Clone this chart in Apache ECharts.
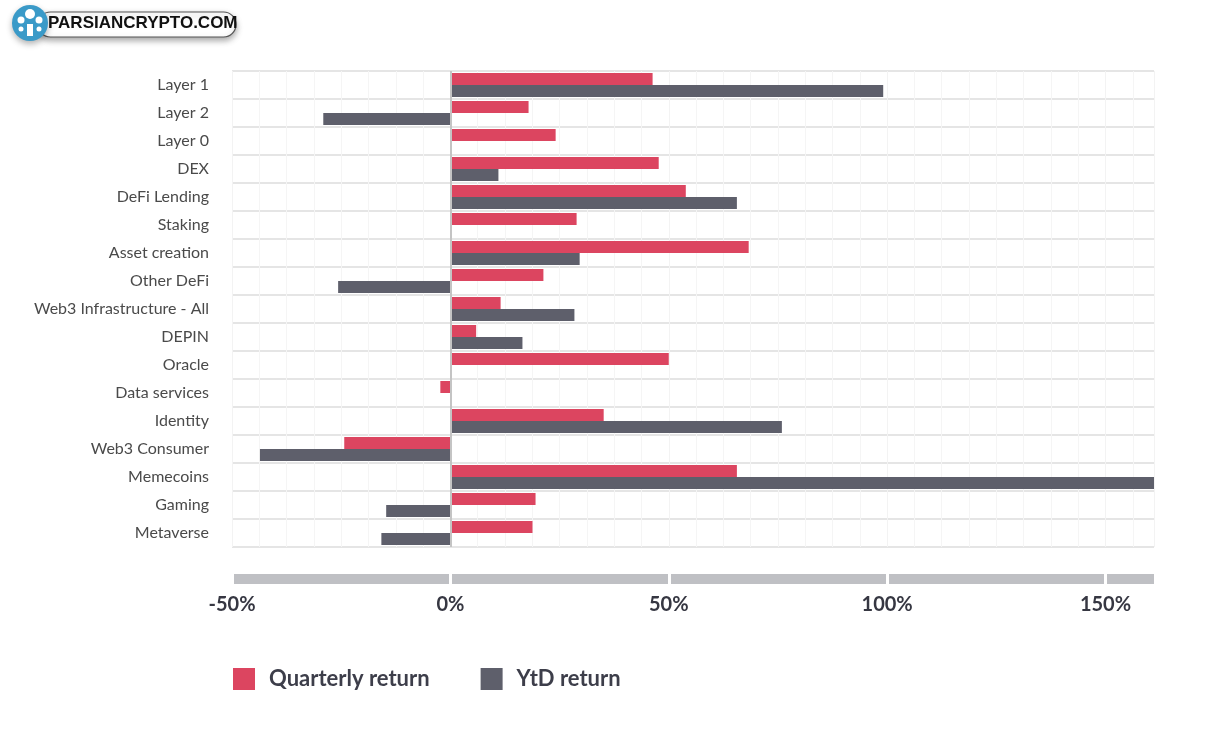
<!DOCTYPE html>
<html>
<head>
<meta charset="utf-8">
<script src="https://cdn.jsdelivr.net/npm/echarts@6/dist/echarts.min.js"></script>
<style>html,body{margin:0;padding:0;background:#fff}#c{width:1216px;height:730px}</style>
</head>
<body>
<div id="c"></div>
<script>
const categories = ['Layer 1','Layer 2','Layer 0','DEX','DeFi Lending','Staking','Asset creation','Other DeFi','Web3 Infrastructure - All','DEPIN','Oracle','Data services','Identity','Web3 Consumer','Memecoins','Gaming','Metaverse'];
const quarterly = [46.3, 17.9, 24.1, 47.7, 53.9, 28.9, 68.3, 21.3, 11.5, 5.9, 50.0, -2.3, 35.1, -24.3, 65.6, 19.5, 18.8];
const ytd = [99.1, -29.1, null, 11.0, 65.6, null, 29.6, -25.7, 28.4, 16.5, null, null, 75.9, -43.6, 161.1, -14.7, -15.8];
const seriesNames = ['Quarterly return', 'YtD return'];
const axisMin = -50, axisMax = 161.1, axisStep = 50;

const chart = echarts.init(document.getElementById('c'), null, {renderer: 'canvas'});
const font = 'Lato, "Open Sans", sans-serif';
chart.setOption({
  animation: false,
  backgroundColor: '#ffffff',
  grid: {left: 232, right: 62, top: 71, height: 476, containLabel: false},
  legend: {
    left: 228, top: 663, itemWidth: 22, itemHeight: 22, itemGap: 51, icon: 'rect',
    textStyle: {fontSize: 22, color: '#3d3e4a', fontWeight: 'bold', fontFamily: font, padding: [0,0,0,9]},
    data: seriesNames
  },
  xAxis: [
    {
      type: 'value', min: axisMin, max: axisMax, interval: axisStep, position: 'bottom', offset: 32,
      axisLine: {show: true, lineStyle: {color: '#bfc0c4', width: 10, cap: 'butt'}},
      axisTick: {show: false}, axisLabel: {show: false},
      splitLine: {show: true, lineStyle: {color: '#f3f3f3', width: 1}},
      minorTick: {show: false, splitNumber: 8},
      minorSplitLine: {show: true, lineStyle: {color: '#f5f5f5', width: 1}}
    },
    {
      type: 'value', min: axisMin, max: axisMax, interval: axisStep, position: 'bottom', offset: 27,
      axisLine: {show: false},
      axisTick: {show: true, inside: false, length: 10, lineStyle: {color: '#ffffff', width: 3}},
      axisLabel: {show: true, margin: 21, fontSize: 20, color: '#363742', fontWeight: 'bold', fontFamily: font,
        showMaxLabel: false, formatter: v => v + '%'},
      splitLine: {show: false}
    }
  ],
  yAxis: {
    type: 'category', inverse: true, data: categories,
    axisLine: {show: false}, axisTick: {show: false},
    axisLabel: {margin: 23, fontSize: 16, color: '#4a4a4a', fontFamily: font, padding: [6,0,0,0]},
    splitLine: {show: true, lineStyle: {color: '#dcdcdc', width: 1.5}}
  },
  series: [
    {
      name: seriesNames[0], type: 'bar', xAxisIndex: 0, data: quarterly, barWidth: 12, barGap: '0%',
      itemStyle: {color: '#dc4560'},
      markLine: {silent: true, symbol: 'none', label: {show: false},
        lineStyle: {color: '#c4c4c4', width: 2, type: 'solid'}, data: [{xAxis: 0}]}
    },
    {
      name: seriesNames[1], type: 'bar', xAxisIndex: 0, data: ytd, barWidth: 12, barGap: '0%',
      itemStyle: {color: '#5e5f6b'}
    }
  ],
  graphic: [
    {type: 'rect', shape: {x: 38, y: 12, width: 198, height: 25, r: 12.5},
      style: {fill: '#ffffff', stroke: '#555', lineWidth: 1.2, shadowBlur: 6, shadowColor: 'rgba(0,0,0,0.35)', shadowOffsetY: 3}},
    {type: 'circle', shape: {cx: 30, cy: 23, r: 18}, style: {fill: '#3a9ac8', shadowBlur: 6, shadowColor: 'rgba(0,0,0,0.3)', shadowOffsetY: 3}},
    {type: 'rect', shape: {x: 27, y: 24, width: 6, height: 12}, style: {fill: '#fff'}},
    {type: 'circle', shape: {cx: 30, cy: 14, r: 5}, style: {fill: '#fff'}},
    {type: 'circle', shape: {cx: 21, cy: 20, r: 3.5}, style: {fill: '#fff'}},
    {type: 'circle', shape: {cx: 39, cy: 20, r: 3.5}, style: {fill: '#fff'}},
    {type: 'circle', shape: {cx: 21, cy: 29, r: 2.5}, style: {fill: '#fff'}},
    {type: 'circle', shape: {cx: 39, cy: 29, r: 2.5}, style: {fill: '#fff'}},
    {type: 'text', left: 48, top: 15, style: {text: 'PARSIANCRYPTO.COM', fill: '#111', font: 'bold 17px "Liberation Sans", Arial, sans-serif'}}
  ]
});
</script>
</body>
</html>
